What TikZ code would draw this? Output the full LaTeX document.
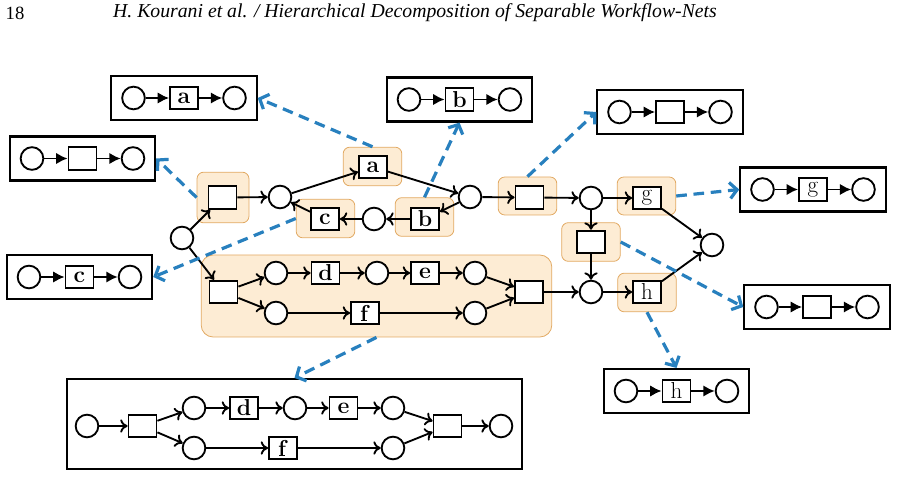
\documentclass[tikz,border=0pt]{standalone}
\usepackage{fontspec}
\newfontfamily\headfont{Liberation Serif}
\usetikzlibrary{arrows.meta}
\definecolor{hlfill}{RGB}{253,236,212}
\definecolor{hldraw}{RGB}{226,170,100}
\definecolor{decblue}{RGB}{40,128,190}

\begin{document}
\begin{tikzpicture}[x=0.75pt, y=-0.75pt,
  place/.style={draw, circle, line width=1.4pt, minimum size=17pt, inner sep=0pt, fill=white},
  trans/.style={draw, rectangle, line width=1.4pt, minimum width=21pt, minimum height=17pt, inner sep=0pt, fill=white, font=\LARGE},
  hl/.style={draw=hldraw, fill=hlfill, rounded corners=5pt, line width=0.6pt, minimum width=44pt, minimum height=29pt},
  frame/.style={draw, line width=1.6pt, minimum width=109pt, minimum height=33pt},
  arc/.style={-{To[length=5.5pt,width=10pt]}, line width=1.4pt},
  subarc/.style={-{Latex[length=8.5pt,width=8.5pt]}, line width=1.4pt},
  refine/.style={-{Straight Barb[length=5.5pt,width=12pt]}, draw=decblue, line width=2.4pt, dash pattern=on 8pt off 5pt}]
\useasboundingbox (0,0) rectangle (897,477);

% running head
\node[anchor=west, font=\headfont\fontsize{14}{16}\selectfont] (pagenum) at (1,13) {18};
\node[font=\headfont\itshape\fontsize{14.8}{16}\selectfont] (runhead) at (415,13) {H. Kourani et al. / Hierarchical Decomposition of Separable Workflow-Nets};

% highlighted parts
\node[hl, minimum width=39pt, minimum height=38pt] (hl1) at (223,197.5) {};
\node[hl] (hla) at (372.5,166.5) {};
\node[hl] (hlb) at (424.5,217) {};
\node[hl] (hlc) at (325.5,218.5) {};
\node[hl, minimum height=28.5pt] (hl2) at (527.5,196) {};
\node[hl, minimum height=28.5pt] (hlg) at (646.5,196) {};
\node[hl] (hl3) at (591,242) {};
\node[hl] (hlh) at (647,292.5) {};
\node[hl, rounded corners=9pt, minimum width=263pt, minimum height=61.5pt] (hlbig) at (376.5,296) {};

% main net
\node[place] (pstart) at (182,238) {};
\node[trans] (t1) at (222.5,197.5) {};
\node[place] (p1) at (280,197) {};
\node[trans] (ta) at (373,167) {\textbf{a}};
\node[place] (p2) at (470,197) {};
\node[trans] (tb) at (425,219) {\textbf{b}};
\node[place] (p3) at (374,219) {};
\node[trans] (tc) at (325,219) {\textbf{c}};
\node[trans] (t2) at (529.5,197.5) {};
\node[place] (p4) at (591,198) {};
\node[trans] (tg) at (647,198) {g};
\node[trans] (t3) at (591,242) {};
\node[place] (p5) at (591,292) {};
\node[trans] (th) at (647,292) {h};
\node[place] (pend) at (712,245) {};
\node[trans] (tsplit) at (223.5,292) {};
\node[place] (pu1) at (276,273) {};
\node[place] (pl1) at (276,313) {};
\node[trans] (td) at (325.5,273) {\textbf{d}};
\node[place] (pu2) at (377,273) {};
\node[trans] (te) at (425,273) {\textbf{e}};
\node[place] (pu3) at (475,273) {};
\node[trans] (tf) at (365,313) {\textbf{f}};
\node[place] (pl2) at (475,313) {};
\node[trans] (tjoin) at (529,292) {};

\draw[arc] (pstart) -- (t1);
\draw[arc] (pstart) -- (tsplit);
\draw[arc] (t1) -- (p1);
\draw[arc] (p1) -- (ta);
\draw[arc] (ta) -- (p2);
\draw[arc] (p2) -- (tb);
\draw[arc] (tb) -- (p3);
\draw[arc] (p3) -- (tc);
\draw[arc] (tc) -- (p1);
\draw[arc] (p2) -- (t2);
\draw[arc] (t2) -- (p4);
\draw[arc] (p4) -- (tg);
\draw[arc] (p4) -- (t3);
\draw[arc] (t3) -- (p5);
\draw[arc] (p5) -- (th);
\draw[arc] (tg) -- (pend);
\draw[arc] (th) -- (pend);
\draw[arc] (tsplit) -- (pu1);
\draw[arc] (tsplit) -- (pl1);
\draw[arc] (pu1) -- (td);
\draw[arc] (td) -- (pu2);
\draw[arc] (pu2) -- (te);
\draw[arc] (te) -- (pu3);
\draw[arc] (pl1) -- (tf);
\draw[arc] (tf) -- (pl2);
\draw[arc] (pu3) -- (tjoin);
\draw[arc] (pl2) -- (tjoin);
\draw[arc] (tjoin) -- (p5);

% small sub-nets
\foreach \nm/\cx/\cy/\lab in {A/184/98/\textbf{a}, L/82.5/158.5/{}, B/459.5/99.5/\textbf{b}, T/670/112/{},
    G/813/189.5/g, C/79.5/277/\textbf{c}, R/817/307/{}, H/676.5/391/h} {
  \node[frame] (\nm-box) at (\cx,\cy) {};
  \node[trans] (\nm-t) at (\cx,\cy) {\lab};
  \node[place] (\nm-in) at ({\cx-50.5},\cy) {};
  \node[place] (\nm-out) at ({\cx+50.5},\cy) {};
  \draw[subarc] (\nm-in) -- (\nm-t);
  \draw[subarc] (\nm-t) -- (\nm-out);
}

% bottom sub-net
\node[draw, line width=1.6pt, minimum width=341pt, minimum height=67.5pt] (bbox) at (294.5,424) {};
\node[place] (bin) at (87,426) {};
\node[trans] (bsplit) at (142.5,426) {};
\node[place] (bu1) at (194,408) {};
\node[place] (bl1) at (194,448) {};
\node[trans] (bd) at (244,408) {\textbf{d}};
\node[place] (bu2) at (295,408) {};
\node[trans] (be) at (343.5,408) {\textbf{e}};
\node[place] (bu3) at (393,408) {};
\node[trans] (bf) at (283,448) {\textbf{f}};
\node[place] (bl2) at (393,448) {};
\node[trans] (bjoin) at (447.5,426) {};
\node[place] (bout) at (501,426) {};
\draw[arc] (bin) -- (bsplit);
\draw[arc] (bsplit) -- (bu1);
\draw[arc] (bsplit) -- (bl1);
\draw[arc] (bu1) -- (bd);
\draw[arc] (bd) -- (bu2);
\draw[arc] (bu2) -- (be);
\draw[arc] (be) -- (bu3);
\draw[arc] (bl1) -- (bf);
\draw[arc] (bf) -- (bl2);
\draw[arc] (bu3) -- (bjoin);
\draw[arc] (bl2) -- (bjoin);
\draw[arc] (bjoin) -- (bout);

% refinement links
\draw[refine] (hl1.west) -- (L-box.east);
\draw[refine] (hla.north) -- (A-box.east);
\draw[refine] (hlb.north) -- (B-box.south);
\draw[refine] (hl2.north) -- (T-box.west);
\draw[refine] (hlg.east) -- (G-box.west);
\draw[refine] (hl3.east) -- (R-box.west);
\draw[refine] (hlh.south) -- (H-box.north);
\draw[refine] (hlc.west) -- (C-box.east);
\draw[refine] (hlbig.south) -- (bbox.north);
\end{tikzpicture}
\end{document}
